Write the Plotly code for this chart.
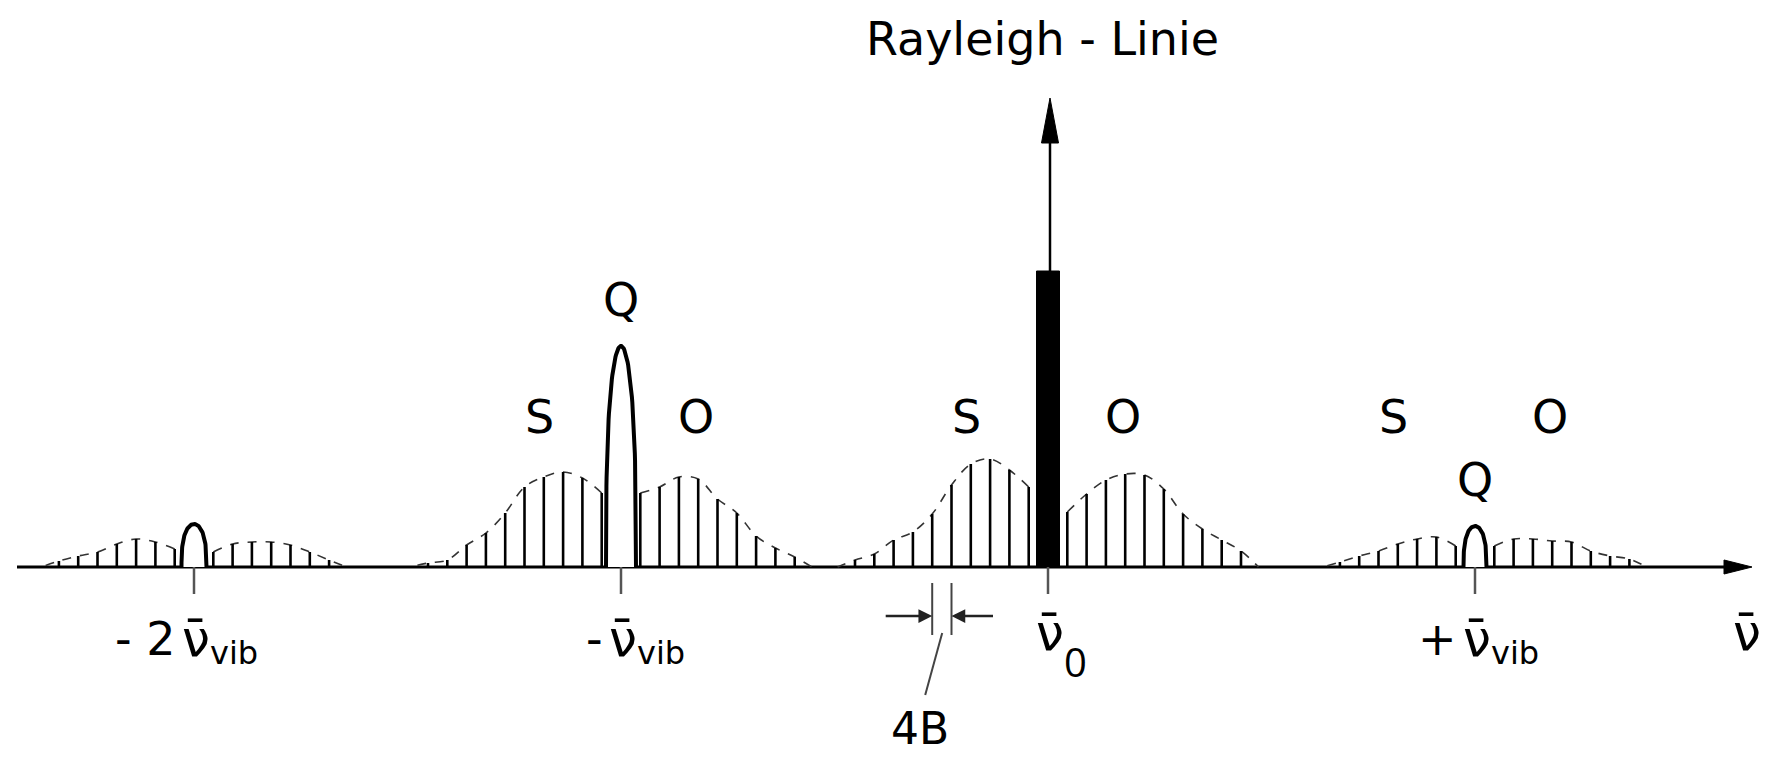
import numpy as np
import plotly.graph_objects as go

# ---------------- data ----------------
# band positions in multiples of the vibrational wavenumber
band_orders = [-2, -1, 0, 1]
# prefix / subscript of the band labels under the axis
band_prefix = ["- 2", "-", "", "+"]
band_sub = ["vib", "vib", "0", "vib"]
# Q-branch outline heights and widths (centre band carries the Rayleigh line)
q_orders = [-2, -1, 1]
q_heights = [43, 221, 41]
q_widths = [25, 30, 23]
# rotational line intensities, nearest line to the band centre first
s_lines = {
    -2: [18, 25, 28, 23, 15, 11, 6],
    -1: [74, 89, 95, 90, 80, 54, 34, 22, 7, 4],
    0: [80, 97, 108, 103, 82, 53, 35, 27, 13, 7],
    1: [21, 30, 28, 23, 16, 11, 5],
}
o_lines = {
    -2: [15, 23, 25, 25, 22, 15, 7],
    -1: [74, 80, 90, 88, 68, 54, 31, 19, 10],
    0: [55, 73, 87, 93, 92, 78, 53, 38, 27, 16],
    1: [21, 28, 28, 26, 25, 16, 11, 8],
}
# branch labels: (band, branch)
branch_labels = [(-1, "S"), (-1, "O"), (-1, "Q"), (0, "S"), (0, "O"), (1, "S"), (1, "O"), (1, "Q")]
rayleigh_height = 296
rayleigh_arrow_top = 469

# ---------------- scale constants ----------------
NU_VIB = 427.0      # axis units per vibrational quantum
SPACING = 19.3      # 4B in axis units
FONT = "DejaVu Sans"

fig = go.Figure()

# axis line with arrow
fig.add_trace(go.Scatter(x=[-1031, 680], y=[0, 0], mode="lines",
                         line=dict(color="black", width=3), hoverinfo="skip"))
fig.add_trace(go.Scatter(x=[676, 704, 676, 676], y=[7, 0, -7, 7], mode="lines", fill="toself",
                         fillcolor="black", line=dict(color="black", width=1), hoverinfo="skip"))

# rotational lines and dashed envelopes
lx, ly = [], []
for order in band_orders:
    c = order * NU_VIB
    for sign, lines in ((-1, s_lines[order]), (1, o_lines[order])):
        ex, ey = [], []
        for k, h in enumerate(lines, start=1):
            x = c + sign * k * SPACING
            lx += [x, x, None]
            ly += [0, h, None]
            ex.append(x)
            ey.append(h)
        ex.append(c + sign * (len(lines) + 0.9) * SPACING)
        ey.append(0)
        fig.add_trace(go.Scatter(x=ex, y=ey, mode="lines",
                                 line=dict(color="#333", width=1.6, dash="dash", shape="spline", smoothing=1.0),
                                 hoverinfo="skip"))
fig.add_trace(go.Scatter(x=lx, y=ly, mode="lines", line=dict(color="black", width=2.6), hoverinfo="skip"))

# Q-branch outlines
t = np.linspace(0, np.pi, 80)
for order, h, w in zip(q_orders, q_heights, q_widths):
    c = order * NU_VIB
    qx = c + (w / 2) * np.cos(t)
    qy = h * np.sin(t) ** 0.7
    fig.add_trace(go.Scatter(x=qx, y=qy, mode="lines",
                             line=dict(color="white", width=0), fill="toself", fillcolor="white",
                             hoverinfo="skip"))
    fig.add_trace(go.Scatter(x=qx, y=qy, mode="lines",
                             line=dict(color="black", width=4), hoverinfo="skip"))

# Rayleigh line: bar + arrow
fig.add_trace(go.Scatter(x=[-11.5, 11.5, 11.5, -11.5, -11.5], y=[0, 0, rayleigh_height, rayleigh_height, 0],
                         mode="lines", fill="toself", fillcolor="black",
                         line=dict(color="black", width=1), hoverinfo="skip"))
fig.add_trace(go.Scatter(x=[2, 2], y=[rayleigh_height, rayleigh_arrow_top - 40], mode="lines",
                         line=dict(color="black", width=2.5), hoverinfo="skip"))
fig.add_trace(go.Scatter(x=[-6.5, 2, 10.5, -6.5],
                         y=[rayleigh_arrow_top - 45, rayleigh_arrow_top, rayleigh_arrow_top - 45, rayleigh_arrow_top - 45],
                         mode="lines", fill="toself", fillcolor="black",
                         line=dict(color="black", width=1), hoverinfo="skip"))

# ticks below the axis at each band centre
tx, ty = [], []
for order in band_orders:
    c = order * NU_VIB
    tx += [c, c, None]
    ty += [0, -27, None]
fig.add_trace(go.Scatter(x=tx, y=ty, mode="lines", line=dict(color="#555", width=2.5), hoverinfo="skip"))

# 4B marker between two S lines of the central band
m1 = -5 * SPACING
m2 = -6 * SPACING
fig.add_trace(go.Scatter(x=[m1, m1, None, m2, m2, None, m2 + 10, m2 - 7],
                         y=[-16, -68, None, -16, -68, None, -66, -128],
                         mode="lines", line=dict(color="#444", width=2), hoverinfo="skip"))

ann = []
def text(x, y, s, size=48, xanchor="center", yanchor="middle", family=FONT):
    ann.append(dict(x=x, y=y, xref="x", yref="y", text=s, showarrow=False,
                    xanchor=xanchor, yanchor=yanchor,
                    font=dict(family=family, size=size, color="black")))

# arrows of the 4B marker
for x_head, x_tail in ((m2, m2 - 48), (m1, m1 + 43)):
    ann.append(dict(x=x_head, y=-49, ax=x_tail, ay=-49, xref="x", yref="y", axref="x", ayref="y",
                    text="", showarrow=True, arrowhead=2, arrowsize=1.1, arrowwidth=2.5,
                    arrowcolor="#222", standoff=0))
text(-128, -161, "4B", size=44)

text(-6, 528, "Rayleigh - Linie", size=46)

offsets = {"S": -82, "O": 75}
for order, br in branch_labels:
    c = order * NU_VIB
    if br == "Q":
        hq = dict(zip(q_orders, q_heights))[order]
        text(c, hq + 46, "Q", size=46)
    else:
        text(c + offsets[br], 150, br, size=46)

# band labels under the axis
for order, pre, sub in zip(band_orders, band_prefix, band_sub):
    c = order * NU_VIB
    if sub == "vib":
        text(c + 2, -72, "ν\u0304", size=50)
        text(c + 14, -86, "vib", size=32, xanchor="left")
    else:
        text(c + 2, -66, "ν\u0304", size=50)
        text(c + 14, -94, sub, size=40, xanchor="left", family="Open Sans")
    if pre:
        text(c - 16, -72, pre, size=46, xanchor="right")
text(699, -66, "ν\u0304", size=50)

fig.update_layout(
    width=1767, height=760, margin=dict(l=0, r=0, t=0, b=0),
    paper_bgcolor="white", plot_bgcolor="white", showlegend=False,
    xaxis=dict(range=[-1048, 719], visible=False, fixedrange=True),
    yaxis=dict(range=[-193, 567], visible=False, fixedrange=True),
    annotations=ann,
)
fig.write_html("out.html", config={"displayModeBar": False},
               post_script="document.body.style.margin='0';")
